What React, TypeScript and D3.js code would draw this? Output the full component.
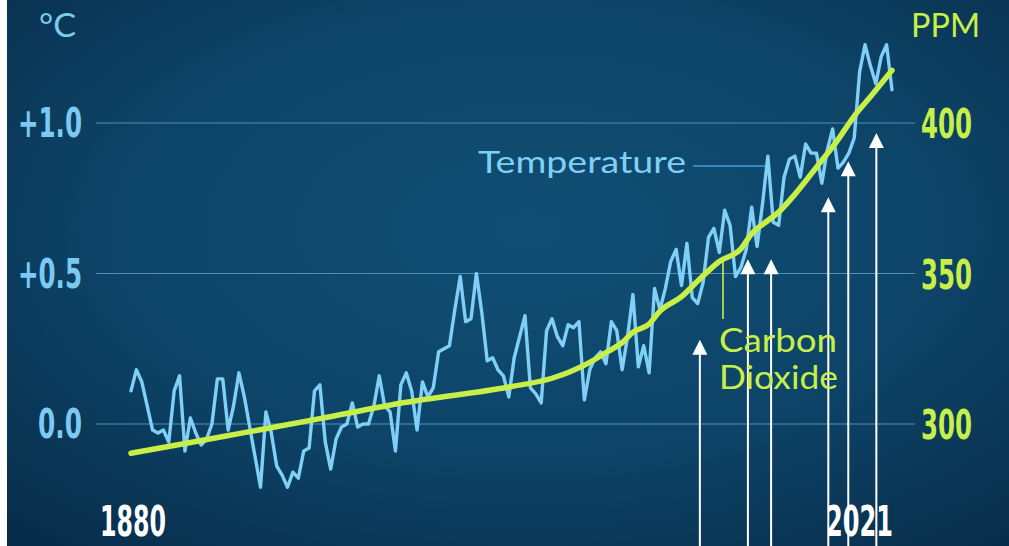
import React from "react";
import * as d3 from "d3";

const START_YEAR = 1880;
const END_YEAR = 2021;

// Temperature anomaly (°C), one value per year 1880..2021
const temperature: number[] = [
  0.11, 0.18, 0.14, 0.06, -0.02, -0.03, -0.02, -0.06, 0.11, 0.16,
  -0.09, 0.02, -0.03, -0.07, -0.05, 0.0, 0.15, 0.15, -0.02, 0.06,
  0.17, 0.09, -0.01, -0.11, -0.21, 0.04, -0.03, -0.14, -0.17, -0.21,
  -0.16, -0.18, -0.09, -0.08, 0.11, 0.13, -0.06, -0.15, -0.05, -0.01,
  0.0, 0.07, -0.01, 0.0, 0.0, 0.06, 0.16, 0.06, 0.04, -0.09,
  0.13, 0.17, 0.11, -0.02, 0.14, 0.09, 0.12, 0.24, 0.25, 0.26,
  0.38, 0.49, 0.34, 0.35, 0.5, 0.37, 0.21, 0.22, 0.18, 0.16,
  0.09, 0.22, 0.29, 0.36, 0.12, 0.1, 0.07, 0.31, 0.35, 0.29,
  0.26, 0.33, 0.32, 0.34, 0.08, 0.18, 0.22, 0.24, 0.2, 0.34,
  0.31, 0.18, 0.29, 0.43, 0.19, 0.26, 0.17, 0.45, 0.38, 0.45,
  0.54, 0.58, 0.46, 0.6, 0.42, 0.4, 0.47, 0.62, 0.65, 0.57,
  0.71, 0.66, 0.49, 0.52, 0.58, 0.72, 0.59, 0.73, 0.89, 0.67,
  0.66, 0.82, 0.88, 0.89, 0.82, 0.93, 0.9, 0.9, 0.8, 0.91,
  0.98, 0.85, 0.87, 0.9, 0.95, 1.17, 1.26, 1.19, 1.13, 1.22,
  1.26, 1.11,
];

// CO2 concentration (ppm)
const co2Years: number[] = [
  1880, 1890, 1900, 1915, 1931, 1950, 1958, 1965, 1968, 1971, 1973, 1976,
  1978, 1982, 1985, 1989, 1993, 1995, 1998, 2000, 2003, 2007, 2011, 2014,
  2017, 2021,
];
const co2Ppm: number[] = [
  290.3, 293.5, 296.8, 301.8, 307.2, 312.3, 315.2, 320.5, 323.7, 327, 330.5,
  333.2, 337.5, 342.3, 347.5, 354, 358.2, 363.2, 367.6, 370.4, 376.3, 385.3,
  394.5, 402.3, 408.7, 417.5,
];

const tempTicks: number[] = [0, 0.5, 1.0];
const tempTickLabels: string[] = ["0.0", "+0.5", "+1.0"];
const co2Ticks: number[] = [300, 350, 400];
const co2TickLabels: string[] = ["300", "350", "400"];

// Annotation arrows (year position, tip level in °C)
const arrowYears: number[] = [1985.4, 1994.3, 1998.6, 2009.2, 2012.9, 2018.1];
const arrowTips: number[] = [0.28, 0.547, 0.547, 0.753, 0.873, 0.967];

const W = 1009;
const H = 546;

const TEMP_COLOR = "#80cff7";
const CO2_COLOR = "#c8ee48";
const GRID_COLOR = "#4f8fb8";
const NUM_FONT = "'Liberation Sans Narrow', 'DejaVu Sans Condensed', 'Roboto', sans-serif";
const TEXT_FONT = "'Lato', 'Open Sans', sans-serif";

export default function App() {
  const years = d3.range(START_YEAR, END_YEAR + 1);
  const x = d3.scaleLinear().domain([START_YEAR, END_YEAR]).range([131, 892]);
  const yT = d3.scaleLinear().domain([0, 1]).range([424, 123]);
  const yC = d3.scaleLinear().domain([300, 400]).range([424, 123]);

  const tempLine = d3
    .line<number>()
    .x((_, i) => x(years[i]))
    .y((d) => yT(d))
    .curve(d3.curveLinear)(temperature) as string;

  const co2Line = d3
    .line<number>()
    .x((_, i) => x(co2Years[i]))
    .y((d) => yC(d))
    .curve(d3.curveMonotoneX)(co2Ppm) as string;

  const co2Interp = d3.scaleLinear().domain(co2Years).range(co2Ppm);
  const co2LabelYear = x.invert(723);
  const co2ConnTop = yC(co2Interp(co2LabelYear));

  const gridX0 = 96;
  const gridX1 = 915;

  return (
    <svg
      width={W}
      height={H}
      style={{ position: "fixed", left: 0, top: 0, display: "block" }}
    >
      <defs>
        <radialGradient id="bg" cx="52%" cy="42%" r="75%">
          <stop offset="0%" stopColor="#114e74" />
          <stop offset="55%" stopColor="#0d4468" />
          <stop offset="100%" stopColor="#082d4a" />
        </radialGradient>
      </defs>
      <rect x={0} y={0} width={W} height={H} fill="#ffffff" />
      <rect x={7} y={0} width={W - 7} height={H} fill="url(#bg)" />

      {/* gridlines */}
      {tempTicks.map((t) => (
        <line
          key={"g" + t}
          x1={gridX0}
          x2={gridX1}
          y1={yT(t)}
          y2={yT(t)}
          stroke={GRID_COLOR}
          strokeWidth={1.2}
        />
      ))}

      {/* left axis labels */}
      {tempTicks.map((t, i) => (
        <text
          key={"lt" + t}
          x={82}
          y={yT(t) + 14}
          textAnchor="end"
          fontFamily={NUM_FONT}
          fontWeight="bold"
          fontSize={40}
          fill="#7cc9f1"
          textLength={tempTickLabels[i].length === 3 ? 44 : 64}
          lengthAdjust="spacingAndGlyphs"
        >
          {tempTickLabels[i]}
        </text>
      ))}

      {/* right axis labels */}
      {co2Ticks.map((t, i) => (
        <text
          key={"rt" + t}
          x={921}
          y={yC(t) + 15}
          textAnchor="start"
          fontFamily={NUM_FONT}
          fontWeight="bold"
          fontSize={40}
          fill={CO2_COLOR}
          textLength={51}
          lengthAdjust="spacingAndGlyphs"
        >
          {co2TickLabels[i]}
        </text>
      ))}

      {/* units */}
      <text
        x={39}
        y={37}
        fontFamily={TEXT_FONT}
        fontSize={32}
        fill="#7cc9f1"
        textLength={37}
        lengthAdjust="spacingAndGlyphs"
      >
        °C
      </text>
      <text
        x={911}
        y={37}
        fontFamily={TEXT_FONT}
        fontSize={32}
        fill={CO2_COLOR}
        textLength={69}
        lengthAdjust="spacingAndGlyphs"
      >
        PPM
      </text>

      {/* arrows */}
      {arrowYears.map((yr, i) => {
        const ax = x(yr);
        const tip = yT(arrowTips[i]);
        return (
          <g key={"a" + i}>
            <line x1={ax} x2={ax} y1={tip + 12} y2={H} stroke="#ffffff" strokeWidth={2} />
            <path
              d={`M${ax},${tip} L${ax + 7.5},${tip + 15} L${ax - 7.5},${tip + 15} Z`}
              fill="#ffffff"
            />
          </g>
        );
      })}

      {/* temperature line */}
      <path
        d={tempLine}
        fill="none"
        stroke={TEMP_COLOR}
        strokeWidth={3.4}
        strokeLinejoin="round"
        strokeLinecap="round"
      />

      {/* co2 line */}
      <path
        d={co2Line}
        fill="none"
        stroke={CO2_COLOR}
        strokeWidth={5.5}
        strokeLinejoin="round"
        strokeLinecap="round"
      />

      {/* temperature annotation */}
      <line x1={693} x2={765} y1={166} y2={166} stroke="#3c9fe2" strokeWidth={1.6} />
      <text
        x={478}
        y={173}
        fontFamily={TEXT_FONT}
        fontSize={31}
        fill={TEMP_COLOR}
        textLength={208}
        lengthAdjust="spacingAndGlyphs"
      >
        Temperature
      </text>

      {/* co2 annotation */}
      <line x1={723} x2={723} y1={co2ConnTop} y2={319} stroke={CO2_COLOR} strokeWidth={1.6} />
      <text
        x={719}
        y={352}
        fontFamily={TEXT_FONT}
        fontSize={32}
        fill={CO2_COLOR}
        textLength={118}
        lengthAdjust="spacingAndGlyphs"
      >
        Carbon
      </text>
      <text
        x={719}
        y={389}
        fontFamily={TEXT_FONT}
        fontSize={32}
        fill={CO2_COLOR}
        textLength={119}
        lengthAdjust="spacingAndGlyphs"
      >
        Dioxide
      </text>

      {/* year labels */}
      <text
        x={x(START_YEAR) + 2}
        y={536}
        textAnchor="middle"
        fontFamily={NUM_FONT}
        fontWeight="bold"
        fontSize={42}
        fill="#ffffff"
        textLength={66}
        lengthAdjust="spacingAndGlyphs"
      >
        {String(START_YEAR)}
      </text>
      <text
        x={x(END_YEAR) + 1}
        y={536}
        textAnchor="end"
        fontFamily={NUM_FONT}
        fontWeight="bold"
        fontSize={42}
        fill="#ffffff"
        textLength={67}
        lengthAdjust="spacingAndGlyphs"
      >
        {String(END_YEAR)}
      </text>
    </svg>
  );
}
